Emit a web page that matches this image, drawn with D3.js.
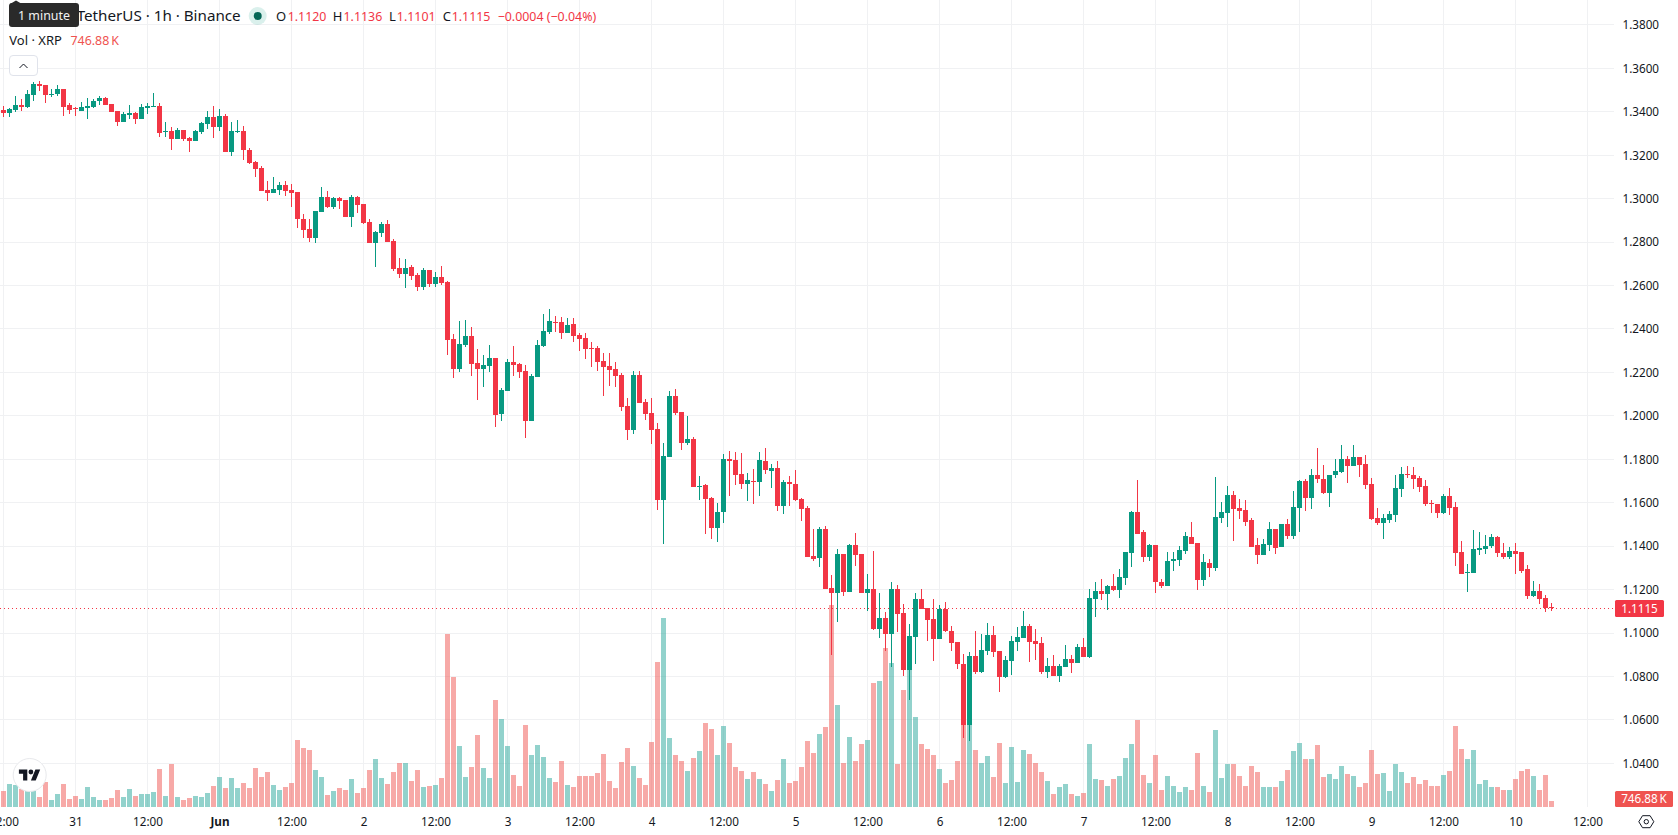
<!DOCTYPE html>
<html>
<head>
<meta charset="utf-8">
<title>XRP / TetherUS 1h</title>
<script src="https://cdn.jsdelivr.net/npm/d3@7/dist/d3.min.js"></script>
<style>
  html, body { margin: 0; padding: 0; background: #fff; overflow: hidden; }
  svg { display: block; }
  text { font-family: "Noto Sans", sans-serif; }
</style>
</head>
<body>
<svg id="chart" width="1678" height="835"></svg>
<script>
// Hourly XRP/USDT candles, oldest first.
const opens = [
1.3409,1.3395,1.3409,1.3431,1.3422,1.3478,1.3528,1.3524,1.3478,1.3482,
1.3505,1.3431,1.3416,1.3403,1.3418,1.3422,1.3450,1.3464,1.3436,1.3403,
1.3353,1.3385,1.3395,1.3367,1.3418,1.3421,1.3427,1.3307,1.3312,1.3275,
1.3316,1.3280,1.3266,1.3307,1.3344,1.3376,1.3330,1.3381,1.3215,1.3307,
1.3312,1.3224,1.3169,1.3141,1.3040,1.3026,1.3040,1.3063,1.3040,1.3031,
1.2906,1.2860,1.2819,1.2939,1.3008,1.2962,1.3003,1.2994,1.2916,1.3008,
1.2976,1.2892,1.2796,1.2842,1.2883,1.2805,1.2681,1.2653,1.2685,1.2649,
1.2593,1.2672,1.2607,1.2639,1.2616,1.2354,1.2216,1.2326,1.2368,1.2243,
1.2216,1.2229,1.2266,1.2009,1.2114,1.2248,1.2239,1.2206,1.1976,1.2179,
1.2322,1.2386,1.2432,1.2432,1.2382,1.2423,1.2372,1.2358,1.2312,1.2312,
1.2253,1.2229,1.2216,1.2188,1.2045,1.1934,1.2188,1.2064,1.2013,1.1939,
1.1613,1.1811,1.2091,1.2018,1.1875,1.1893,1.1672,1.1681,1.1622,1.1484,
1.1557,1.1802,1.1797,1.1732,1.1686,1.1700,1.1696,1.1792,1.1746,1.1760,
1.1585,1.1696,1.1686,1.1617,1.1576,1.1355,1.1346,1.1479,1.1207,1.1184,
1.1364,1.1189,1.1405,1.1364,1.1184,1.1203,1.1018,1.1069,1.0995,1.1203,
1.1092,1.0830,1.0982,1.1157,1.1115,1.1065,1.0972,1.1111,1.1009,1.0958,
1.0857,1.0576,1.0894,1.0820,1.0917,1.0991,1.0917,1.0797,1.0871,1.0958,
1.0977,1.1032,1.0963,1.0954,1.0820,1.0848,1.0802,1.0843,1.0880,1.0862,
1.0935,1.0890,1.1157,1.1193,1.1179,1.1216,1.1198,1.1253,1.1368,1.1557,
1.1465,1.1350,1.1405,1.1235,1.1216,1.1332,1.1336,1.1378,1.1442,1.1415,
1.1244,1.1322,1.1299,1.1530,1.1553,1.1636,1.1576,1.1567,1.1520,1.1405,
1.1359,1.1405,1.1479,1.1396,1.1502,1.1447,1.1576,1.1700,1.1622,1.1728,
1.1709,1.1645,1.1728,1.1742,1.1802,1.1770,1.1811,1.1779,1.1686,1.1530,
1.1507,1.1520,1.1543,1.1663,1.1732,1.1728,1.1714,1.1677,1.1599,1.1594,
1.1553,1.1631,1.1581,1.1373,1.1276,1.1276,1.1382,1.1387,1.1401,1.1442,
1.1368,1.1350,1.1378,1.1373,1.1295,1.1170,1.1193,1.1161,1.1120];

const highs = [
1.3427,1.3416,1.3473,1.3459,1.3501,1.3537,1.3542,1.3524,1.3505,1.3524,
1.3505,1.3441,1.3422,1.3445,1.3464,1.3460,1.3473,1.3468,1.3436,1.3403,
1.3399,1.3431,1.3399,1.3436,1.3441,1.3487,1.3441,1.3353,1.3330,1.3326,
1.3316,1.3284,1.3316,1.3353,1.3403,1.3427,1.3413,1.3390,1.3353,1.3362,
1.3335,1.3233,1.3174,1.3150,1.3081,1.3100,1.3077,1.3081,1.3068,1.3031,
1.2930,1.2906,1.2943,1.3054,1.3035,1.3008,1.3008,1.2994,1.3018,1.3013,
1.2976,1.2906,1.2851,1.2892,1.2902,1.2814,1.2727,1.2722,1.2695,1.2658,
1.2681,1.2672,1.2662,1.2692,1.2621,1.2377,1.2437,1.2441,1.2409,1.2308,
1.2282,1.2326,1.2266,1.2129,1.2262,1.2322,1.2243,1.2234,1.2193,1.2349,
1.2468,1.2491,1.2458,1.2454,1.2449,1.2449,1.2382,1.2382,1.2340,1.2322,
1.2289,1.2289,1.2248,1.2197,1.2082,1.2206,1.2206,1.2078,1.2082,1.1967,
1.1875,1.2114,1.2123,1.2018,1.1999,1.1903,1.1723,1.1686,1.1627,1.1599,
1.1825,1.1839,1.1834,1.1830,1.1737,1.1755,1.1834,1.1852,1.1779,1.1792,
1.1705,1.1723,1.1751,1.1622,1.1585,1.1479,1.1488,1.1493,1.1267,1.1387,
1.1364,1.1410,1.1460,1.1364,1.1272,1.1378,1.1184,1.1097,1.1235,1.1221,
1.1134,1.1041,1.1184,1.1203,1.1115,1.1157,1.1129,1.1143,1.1032,1.0958,
1.0903,1.0913,1.1009,1.0995,1.1046,1.1032,1.0917,1.0894,1.0986,1.1028,
1.1101,1.1041,1.1018,1.0982,1.0885,1.0899,1.0857,1.0945,1.0899,1.0949,
1.0977,1.1203,1.1235,1.1249,1.1221,1.1272,1.1295,1.1373,1.1562,1.1705,
1.1474,1.1410,1.1405,1.1249,1.1373,1.1373,1.1401,1.1465,1.1511,1.1415,
1.1364,1.1341,1.1719,1.1603,1.1677,1.1654,1.1617,1.1613,1.1530,1.1437,
1.1433,1.1511,1.1479,1.1502,1.1525,1.1654,1.1705,1.1709,1.1755,1.1852,
1.1774,1.1728,1.1802,1.1866,1.1815,1.1866,1.1811,1.1820,1.1714,1.1576,
1.1548,1.1562,1.1728,1.1765,1.1770,1.1765,1.1723,1.1705,1.1613,1.1594,
1.1640,1.1668,1.1603,1.1424,1.1318,1.1474,1.1465,1.1451,1.1456,1.1447,
1.1415,1.1396,1.1415,1.1373,1.1313,1.1239,1.1226,1.1175,1.1136];

const lows = [
1.3376,1.3376,1.3401,1.3403,1.3418,1.3451,1.3496,1.3441,1.3468,1.3473,
1.3381,1.3390,1.3381,1.3403,1.3367,1.3418,1.3431,1.3431,1.3399,1.3335,
1.3353,1.3367,1.3344,1.3367,1.3390,1.3421,1.3284,1.3284,1.3224,1.3275,
1.3266,1.3215,1.3266,1.3298,1.3321,1.3280,1.3312,1.3215,1.3197,1.3303,
1.3178,1.3160,1.3100,1.3035,1.2989,1.3026,1.3018,1.3013,1.2962,1.2865,
1.2819,1.2801,1.2796,1.2939,1.2957,1.2953,1.2953,1.2916,1.2870,1.2934,
1.2883,1.2796,1.2685,1.2824,1.2801,1.2667,1.2635,1.2589,1.2626,1.2575,
1.2580,1.2593,1.2593,1.2603,1.2282,1.2174,1.2202,1.2317,1.2184,1.2073,
1.2133,1.2202,1.1949,1.1976,1.2114,1.2184,1.2174,1.1898,1.1976,1.2179,
1.2317,1.2377,1.2386,1.2354,1.2382,1.2340,1.2299,1.2262,1.2225,1.2206,
1.2091,1.2138,1.2133,1.2023,1.1889,1.1916,1.2059,1.1981,1.1870,1.1567,
1.1410,1.1811,1.2004,1.1843,1.1866,1.1672,1.1613,1.1456,1.1433,1.1419,
1.1507,1.1631,1.1681,1.1663,1.1608,1.1594,1.1631,1.1732,1.1668,1.1562,
1.1548,1.1585,1.1608,1.1516,1.1350,1.1332,1.1304,1.1203,1.0899,1.1051,
1.1170,1.1189,1.1309,1.1184,1.1101,1.1014,1.0977,1.0917,1.0843,1.1005,
1.0802,1.0692,1.0857,1.1111,1.0963,1.0871,1.0972,1.1005,1.0917,1.0834,
1.0516,1.0503,1.0811,1.0816,1.0899,1.0890,1.0728,1.0793,1.0807,1.0917,
1.0977,1.0866,1.0876,1.0811,1.0793,1.0802,1.0774,1.0843,1.0816,1.0862,
1.0890,1.0885,1.1074,1.1152,1.1106,1.1193,1.1161,1.1221,1.1304,1.1456,
1.1327,1.1332,1.1184,1.1207,1.1216,1.1286,1.1309,1.1364,1.1410,1.1198,
1.1216,1.1258,1.1286,1.1507,1.1488,1.1424,1.1525,1.1493,1.1396,1.1318,
1.1359,1.1378,1.1364,1.1396,1.1433,1.1433,1.1465,1.1562,1.1571,1.1691,
1.1640,1.1581,1.1714,1.1737,1.1691,1.1770,1.1719,1.1663,1.1520,1.1498,
1.1433,1.1507,1.1511,1.1627,1.1714,1.1663,1.1649,1.1585,1.1553,1.1530,
1.1548,1.1543,1.1309,1.1272,1.1189,1.1276,1.1359,1.1364,1.1391,1.1350,
1.1341,1.1341,1.1272,1.1276,1.1157,1.1166,1.1134,1.1097,1.1101];

const closes = [
1.3395,1.3413,1.3431,1.3424,1.3482,1.3528,1.3519,1.3478,1.3482,1.3505,
1.3422,1.3409,1.3411,1.3422,1.3427,1.3450,1.3464,1.3431,1.3399,1.3353,
1.3390,1.3395,1.3367,1.3422,1.3427,1.3427,1.3303,1.3312,1.3275,1.3316,
1.3275,1.3266,1.3312,1.3349,1.3376,1.3330,1.3381,1.3215,1.3312,1.3312,
1.3224,1.3164,1.3137,1.3035,1.3026,1.3045,1.3063,1.3035,1.3026,1.2906,
1.2856,1.2819,1.2943,1.3008,1.2962,1.3003,1.2989,1.2916,1.3008,1.2971,
1.2888,1.2796,1.2847,1.2883,1.2801,1.2676,1.2653,1.2681,1.2644,1.2593,
1.2672,1.2607,1.2639,1.2612,1.2349,1.2216,1.2331,1.2368,1.2239,1.2216,
1.2234,1.2266,1.2004,1.2119,1.2248,1.2234,1.2202,1.1976,1.2184,1.2326,
1.2391,1.2437,1.2427,1.2382,1.2417,1.2368,1.2354,1.2308,1.2308,1.2248,
1.2225,1.2211,1.2184,1.2041,1.1934,1.2188,1.2059,1.2009,1.1934,1.1613,
1.1815,1.2091,1.2013,1.1875,1.1893,1.1672,1.1677,1.1617,1.1484,1.1557,
1.1802,1.1792,1.1728,1.1686,1.1705,1.1696,1.1797,1.1751,1.1760,1.1585,
1.1696,1.1686,1.1613,1.1571,1.1350,1.1341,1.1479,1.1203,1.1184,1.1364,
1.1189,1.1405,1.1359,1.1184,1.1203,1.1018,1.1069,1.0995,1.1203,1.1088,
1.0830,1.0986,1.1157,1.1111,1.1060,1.0972,1.1111,1.1009,1.0954,1.0857,
1.0576,1.0894,1.0820,1.0922,1.0991,1.0913,1.0797,1.0876,1.0963,1.0982,
1.1032,1.0958,1.0949,1.0820,1.0848,1.0802,1.0848,1.0880,1.0862,1.0935,
1.0890,1.1161,1.1193,1.1179,1.1216,1.1198,1.1258,1.1373,1.1557,1.1456,
1.1350,1.1405,1.1235,1.1216,1.1332,1.1341,1.1382,1.1447,1.1410,1.1244,
1.1327,1.1299,1.1534,1.1557,1.1636,1.1571,1.1562,1.1511,1.1396,1.1359,
1.1410,1.1479,1.1391,1.1502,1.1447,1.1581,1.1700,1.1622,1.1728,1.1709,
1.1645,1.1728,1.1746,1.1802,1.1770,1.1811,1.1774,1.1681,1.1525,1.1507,
1.1530,1.1548,1.1668,1.1732,1.1728,1.1709,1.1672,1.1594,1.1594,1.1553,
1.1631,1.1576,1.1368,1.1272,1.1281,1.1387,1.1391,1.1401,1.1442,1.1368,
1.1350,1.1378,1.1364,1.1286,1.1170,1.1193,1.1157,1.1115,1.1115];

// Traded volume per hour, in thousands of XRP.
const volumes = [
1920,2760,2640,2200,1920,1920,1200,3000,840,1560,
2760,960,1320,960,2400,1200,840,840,1080,2040,
1200,2160,1320,1560,1560,1800,4560,1320,5160,1200,
840,1080,1320,1200,1680,2520,3600,2280,3480,2280,
2880,2280,4680,3600,4200,2640,2040,2400,2880,8040,
7080,6840,4440,3600,1440,1920,2280,2040,3360,1680,
2280,4440,5760,3480,2760,4200,5280,5280,3120,4440,
2400,2520,2640,3480,20760,15600,7320,3600,4800,8640,
4680,3480,12840,10560,7320,3840,2520,9840,6240,7440,
6000,3480,3000,5520,2640,2400,3720,3720,3720,4080,
6360,3120,2280,5400,7080,4920,3480,2640,7800,17400,
22680,8280,6240,5520,4320,5880,6720,10080,9360,6240,
9720,7680,4800,4320,3360,4200,3360,2760,1920,3240,
5760,2880,3120,4800,7920,6480,8760,9600,24240,12240,
5280,8400,5520,7560,8040,14880,15120,19080,17280,5160,
14040,16840,10800,7560,6960,6240,4560,2880,3240,5520,
10400,10000,6840,5280,6120,3600,7680,2880,7200,3000,
6840,6360,5280,4200,3120,1560,2400,2760,1560,1320,
1680,7560,3360,3240,2520,3360,3720,5880,7560,10440,
3840,2880,6240,2040,3720,2520,1800,2400,2040,6480,
2520,1800,9240,3480,5160,5160,3720,2520,4920,4200,
2400,2400,2400,3120,4440,6720,7680,5760,5760,7440,
3600,3960,3360,4920,3960,3720,2400,2880,6840,3960,
4080,1920,5160,4200,2880,3600,2760,3240,2520,2520,
3840,4320,9720,6960,5760,6840,2760,3240,2400,2400,
2040,2040,3360,4320,4560,3720,2040,3840,746.88];

const priceTicks = [1.38,1.36,1.34,1.32,1.30,1.28,1.26,1.24,1.22,1.20,1.18,1.16,1.14,1.12,1.10,1.08,1.06,1.04];
const timeLabels = ["12:00","31","12:00","Jun","12:00","2","12:00","3","12:00","4","12:00","5","12:00","6","12:00","7","12:00","8","12:00","9","12:00","10","12:00"];

const UP = "#089981", DOWN = "#f23645";
const UP_VOL = "#26a69a", DOWN_VOL = "#ef5350";
const INK = "#131722", GRID = "#f0f1f3";

const plotRight = 1614, volumeBase = 807;
const firstHour = new Date(Date.UTC(2021, 4, 30, 12));
const lastHour = new Date(Date.UTC(2021, 5, 10, 6));
const hours = d3.utcHour.range(firstHour, d3.utcHour.offset(lastHour, 1));
const candles = hours.map((t, i) => ({
  t, open: opens[i], high: highs[i], low: lows[i], close: closes[i], volume: volumes[i],
  up: closes[i] >= opens[i]
}));

const x = d3.scaleUtc().domain([firstHour, lastHour]).range([3.5, 1551.5]);
const y = d3.scaleLinear().domain([1.36, 1.04]).range([68.4, 763.3]);
const v = d3.scaleLinear().domain([0, 24240]).range([volumeBase, volumeBase - 202]);

const timeTicks = d3.utcHour.every(12).range(firstHour, d3.utcHour.offset(lastHour, 7));
const snap = p => Math.floor(p) + 0.5;

const svg = d3.select("#chart");

// Grid
const grid = svg.append("g").attr("fill", "none").attr("stroke", GRID).attr("stroke-width", 1);
grid.selectAll("line.h").data(priceTicks).join("line").attr("class", "h")
  .attr("x1", 0).attr("x2", plotRight)
  .attr("y1", d => snap(y(d))).attr("y2", d => snap(y(d)));
grid.selectAll("line.v").data(timeTicks).join("line").attr("class", "v")
  .attr("x1", d => x(d)).attr("x2", d => x(d))
  .attr("y1", 0).attr("y2", volumeBase);

// Volume histogram sits behind the candles
svg.append("g").selectAll("rect").data(candles).join("rect")
  .attr("x", d => x(d.t) - 2.5).attr("width", 5)
  .attr("y", d => Math.round(v(d.volume)))
  .attr("height", d => volumeBase - Math.round(v(d.volume)))
  .attr("fill", d => d.up ? UP_VOL : DOWN_VOL)
  .attr("fill-opacity", 0.5);

// Last price line
svg.append("line")
  .attr("x1", 0).attr("x2", plotRight)
  .attr("y1", snap(y(closes[closes.length - 1]))).attr("y2", snap(y(closes[closes.length - 1])))
  .attr("stroke", DOWN).attr("stroke-width", 1).attr("stroke-dasharray", "1 3");

// Candles
const candleG = svg.append("g").selectAll("g").data(candles).join("g");
candleG.append("line")
  .attr("x1", d => x(d.t)).attr("x2", d => x(d.t))
  .attr("y1", d => Math.round(y(d.high))).attr("y2", d => Math.round(y(d.low)))
  .attr("stroke", d => d.up ? UP : DOWN).attr("stroke-width", 1);
candleG.append("rect")
  .attr("x", d => x(d.t) - 2.5).attr("width", 5)
  .attr("y", d => Math.round(y(Math.max(d.open, d.close))))
  .attr("height", d => Math.max(1, Math.round(y(Math.min(d.open, d.close))) - Math.round(y(Math.max(d.open, d.close)))))
  .attr("fill", d => d.up ? UP : DOWN);

// Price axis
const AXIS_FONT = 11.7;
const priceAxis = d3.axisRight(y).tickValues(priceTicks).tickSize(0).tickPadding(0).tickFormat(d3.format(".4f"));
svg.append("g").attr("transform", "translate(1622.5,0)").call(priceAxis)
  .call(g => g.select(".domain").remove())
  .call(g => g.selectAll("text").attr("fill", INK).attr("font-size", AXIS_FONT).attr("font-family", '"Noto Sans", sans-serif'));

// Time axis
const timeAxis = d3.axisBottom(x).tickValues(timeTicks).tickSize(0).tickPadding(0).tickFormat((d, i) => timeLabels[i]);
svg.append("g").attr("transform", "translate(0,817.6)").call(timeAxis)
  .call(g => g.select(".domain").remove())
  .call(g => g.selectAll("text").attr("fill", INK).attr("font-size", AXIS_FONT).attr("font-family", '"Noto Sans", sans-serif')
    .attr("font-weight", d => timeLabels[timeTicks.indexOf(d)] === "Jun" ? 700 : 400));

// Price and volume tags on the right
const tags = svg.append("g");
tags.append("rect").attr("x", 1615).attr("y", 600).attr("width", 49).attr("height", 17).attr("rx", 1.5).attr("fill", DOWN);
tags.append("text").attr("x", 1639.5).attr("y", 612.5).attr("text-anchor", "middle").attr("fill", "#fff").attr("font-size", AXIS_FONT)
  .text(d3.format(".4f")(closes[closes.length - 1]));
tags.append("rect").attr("x", 1615).attr("y", 791).attr("width", 58).attr("height", 16).attr("rx", 1.5).attr("fill", DOWN_VOL);
tags.append("text").attr("x", 1644).attr("y", 803).attr("text-anchor", "middle").attr("fill", "#fff").attr("font-size", AXIS_FONT)
  .text("746.88\u202FK");

// Chart settings icon
const gear = svg.append("g").attr("transform", "translate(1646.3,821.7)").attr("fill", "none").attr("stroke", INK).attr("stroke-width", 1);
gear.append("path").attr("d", "M-7.5 0L-3.8 -6H3.8L7.5 0L3.8 6H-3.8Z");
gear.append("circle").attr("r", 2.2);

// Legend lines
const legend = svg.append("g");
legend.append("text").attr("x", 240.7).attr("y", 21).attr("text-anchor", "end").attr("fill", INK).attr("font-size", 15.2)
  .text("XRP / TetherUS \u00B7 1h \u00B7 Binance");
legend.append("circle").attr("cx", 257.7).attr("cy", 16).attr("r", 9).attr("fill", UP).attr("fill-opacity", 0.15);
legend.append("circle").attr("cx", 257.7).attr("cy", 16).attr("r", 4).attr("fill", "#056656");

const last = candles[candles.length - 1];
const ohlcLabels = ["O", "H", "L", "C"];
const ohlcValues = [last.open, last.high, last.low, last.close];
const ohlcX = [276, 332.7, 389, 442.7];
const ohlcValueX = [287.7, 343.5, 396.8, 451.7];
ohlcLabels.forEach((lab, i) => {
  legend.append("text").attr("x", ohlcX[i]).attr("y", 20.8).attr("fill", INK).attr("font-size", 13).text(lab);
  legend.append("text").attr("x", ohlcValueX[i]).attr("y", 20.8).attr("fill", DOWN).attr("font-size", 12.4).text(d3.format(".4f")(ohlcValues[i]));
});
legend.append("text").attr("x", 497.7).attr("y", 20.8).attr("fill", DOWN).attr("font-size", 12.4).text("\u22120.0004 (\u22120.04%)");
legend.append("text").attr("x", 9.3).attr("y", 45.4).attr("fill", INK).attr("font-size", 13).text("Vol \u00B7 XRP");
legend.append("text").attr("x", 70.5).attr("y", 45.4).attr("fill", DOWN_VOL).attr("font-size", 12.4).text("746.88\u202FK");

// Collapse button
legend.append("rect").attr("x", 9.5).attr("y", 55.5).attr("width", 28).attr("height", 20).attr("rx", 3.5)
  .attr("fill", "#fff").attr("stroke", "#e0e3eb");
legend.append("path").attr("d", "M19.5 68L23.5 64L27.5 68").attr("fill", "none").attr("stroke", INK).attr("stroke-width", 1);

// Hover tooltip over the symbol name
const tip = svg.append("g");
tip.append("path").attr("d", "M10 4L16 0.5L22 4Z").attr("fill", "#2a2a2a");
tip.append("rect").attr("x", 9).attr("y", 3).attr("width", 70).attr("height", 24).attr("rx", 3).attr("fill", "#2a2a2a");
tip.append("text").attr("x", 44).attr("y", 20).attr("text-anchor", "middle").attr("fill", "#f2f2f2").attr("font-size", 12.4).text("1 minute");

// Brand badge
const badge = svg.append("g").attr("transform", "translate(29.7,775)");
badge.append("circle").attr("r", 16.5).attr("fill", "#fff").attr("stroke", "#e8e9ec").attr("stroke-width", 1);
badge.append("g").attr("transform", "translate(-10.8,-7.8) scale(0.6)").attr("fill", "#131722")
  .call(g => {
    g.append("path").attr("d", "M14 22H7V11H0V4h14v18zM28 22h-8l7.5-18h8L28 22z");
    g.append("circle").attr("cx", 20).attr("cy", 8).attr("r", 4);
  });
</script>
</body>
</html>
